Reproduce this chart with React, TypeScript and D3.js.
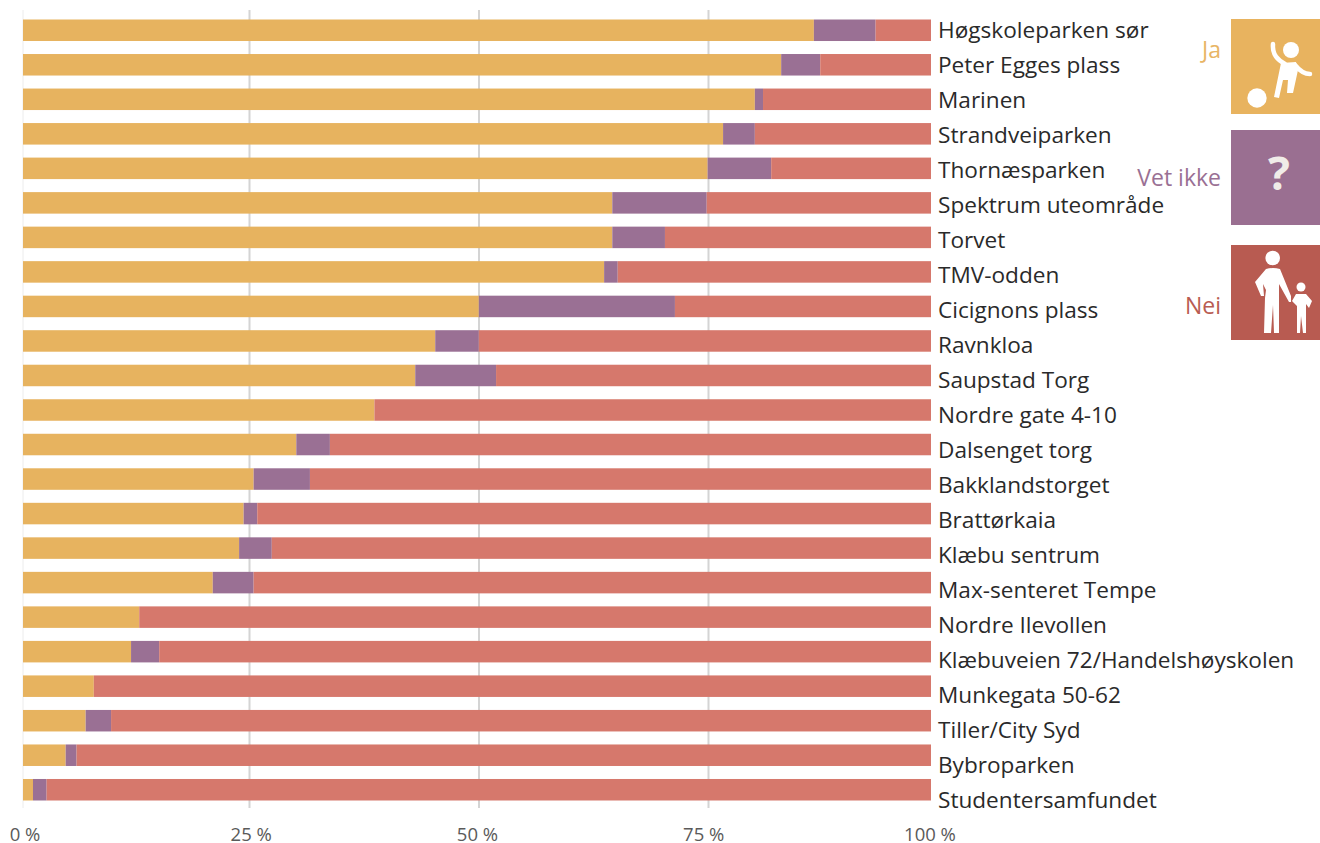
import React from "react";
import * as d3 from "d3";

const categories = ["Høgskoleparken sør","Peter Egges plass","Marinen","Strandveiparken","Thornæsparken","Spektrum uteområde","Torvet","TMV-odden","Cicignons plass","Ravnkloa","Saupstad Torg","Nordre gate 4-10","Dalsenget torg","Bakklandstorget","Brattørkaia","Klæbu sentrum","Max-senteret Tempe","Nordre Ilevollen","Klæbuveien 72/Handelshøyskolen","Munkegata 50-62","Tiller/City Syd","Bybroparken","Studentersamfundet"];
const ja = [87.1,83.5,80.6,77.1,75.4,64.9,64.9,64.0,50.2,45.4,43.2,38.7,30.1,25.4,24.3,23.8,20.9,12.8,11.9,7.8,6.9,4.7,1.1];
const vetIkke = [6.8,4.3,0.9,3.5,7.0,10.4,5.8,1.5,21.6,4.8,8.9,0,3.7,6.2,1.5,3.6,4.5,0,3.1,0,2.8,1.2,1.5];
const nei = [6.1,12.2,18.5,19.4,17.6,24.7,29.3,34.5,28.2,49.8,47.9,61.3,66.2,68.4,74.2,72.6,74.6,87.2,85.0,92.2,90.3,94.1,97.4];
const ticks = [0,25,50,75,100];
const gridTicks = [25,50,75];
const seriesNames = ["Ja","Vet ikke","Nei"];
const barColors = ["#e7b35f","#9a7094","#d6786c"];
const legendText = ["#e8b565","#9a7094","#b95c52"];
const legendFill = ["#e8b35f","#9a6f91","#b85b51"];

const FONT = "'Open Sans', sans-serif";

export default function App() {
  const x = d3.scaleLinear().domain([0,100]).range([23,931]);
  const gridX = d3.scaleLinear().domain([25,75]).range([249.5,708.5]);
  const tickX = d3.scaleLinear().domain([0,100]).range([25,930]);
  const y = d3.scaleBand<string>().domain(categories).range([19.5,800.5]).paddingInner(0.377).paddingOuter(0);
  const labelY = d3.scalePoint<string>().domain(categories).range([30,800]);
  const stack = d3.stack<number>().keys(["0","1","2"]).value((i,k)=>[ja,vetIkke,nei][+k][i])(categories.map((_,i)=>i));
  const legendY = [19,130,245];
  const legendTextY = [50,178,306];
  return (
    <svg width={1320} height={843} style={{position:"absolute",left:0,top:0,background:"#fff"}}>
      <defs><filter id="soft"><feGaussianBlur stdDeviation="0.45"/></filter></defs>
      <g filter="url(#soft)">
        <line x1={23} x2={23} y1={10} y2={808} stroke="#ececec" strokeWidth={1}/>
        {gridTicks.map(t=><line key={t} x1={gridX(t)} x2={gridX(t)} y1={10} y2={808} stroke="#d4d4d4" strokeWidth={2}/>)}
        {stack.map((s,si)=>s.map((d,i)=>(
          <rect key={si+"-"+i} x={x(d[0])} width={x(d[1])-x(d[0])} y={y(categories[i])} height={y.bandwidth()} fill={barColors[si]}/>
        )))}
      </g>
      {categories.map(c=><text key={c} x={938} y={labelY(c)} dy="0.36em" fontFamily={FONT} fontSize={22.6} fill="#2a2a2a">{c}</text>)}
      {ticks.map(t=><text key={t} x={tickX(t)} y={834} dy="0.36em" textAnchor="middle" fontFamily={FONT} fontSize={18.5} fill="#5a5a5a">{t} %</text>)}
      {seriesNames.map((n,i)=><g key={n}>
        <rect x={1231} y={legendY[i]} width={89} height={95} fill={legendFill[i]}/>
        <text x={1221} y={legendTextY[i]} dy="0.36em" textAnchor="end" fontFamily={FONT} fontSize={23} fill={legendText[i]}>{n}</text>
      </g>)}
      {/* playing child */}
      <g fill="#fff" stroke="none">
        <circle cx={1257} cy={98} r={9.7}/>
        <circle cx={1291} cy={50} r={8}/>
        <path d="M1281 63 L1296 62 L1298 70 L1293 93 L1287 93 L1288 80 L1283 80 L1279 98 L1274 97 Z"/>
        <path d="M1273 44 C1272 55 1278 60 1285 64 M1295 65 C1299 70 1304 74 1310 74" fill="none" stroke="#fff" strokeWidth={4.5} strokeLinecap="round"/>
      </g>
      <text x={1279} y={190} textAnchor="middle" fontFamily={FONT} fontWeight={700} fontSize={46} fill="#f0ece8">?</text>
      {/* adult and child */}
      <g fill="#fff" stroke="none">
        <circle cx={1272.7} cy={258} r={7.3}/>
        <path d="M1266 269 Q1273 267 1280 269 L1291 296 L1291 302 L1289 302 L1279 284 L1279 333 L1274 333 L1273 305 L1271 333 L1264 333 L1265 298 L1266 290 L1263 284 L1264 296 L1261 296 L1255 282 Z"/>
        <circle cx={1301} cy={287} r={4.5}/>
        <path d="M1296 294 L1306 294 L1312 301 L1309 308 L1306 304 L1306 333 L1303 333 L1301 316 L1300 333 L1297 333 L1297 306 L1292 301 Z"/>
      </g>
    </svg>
  );
}
